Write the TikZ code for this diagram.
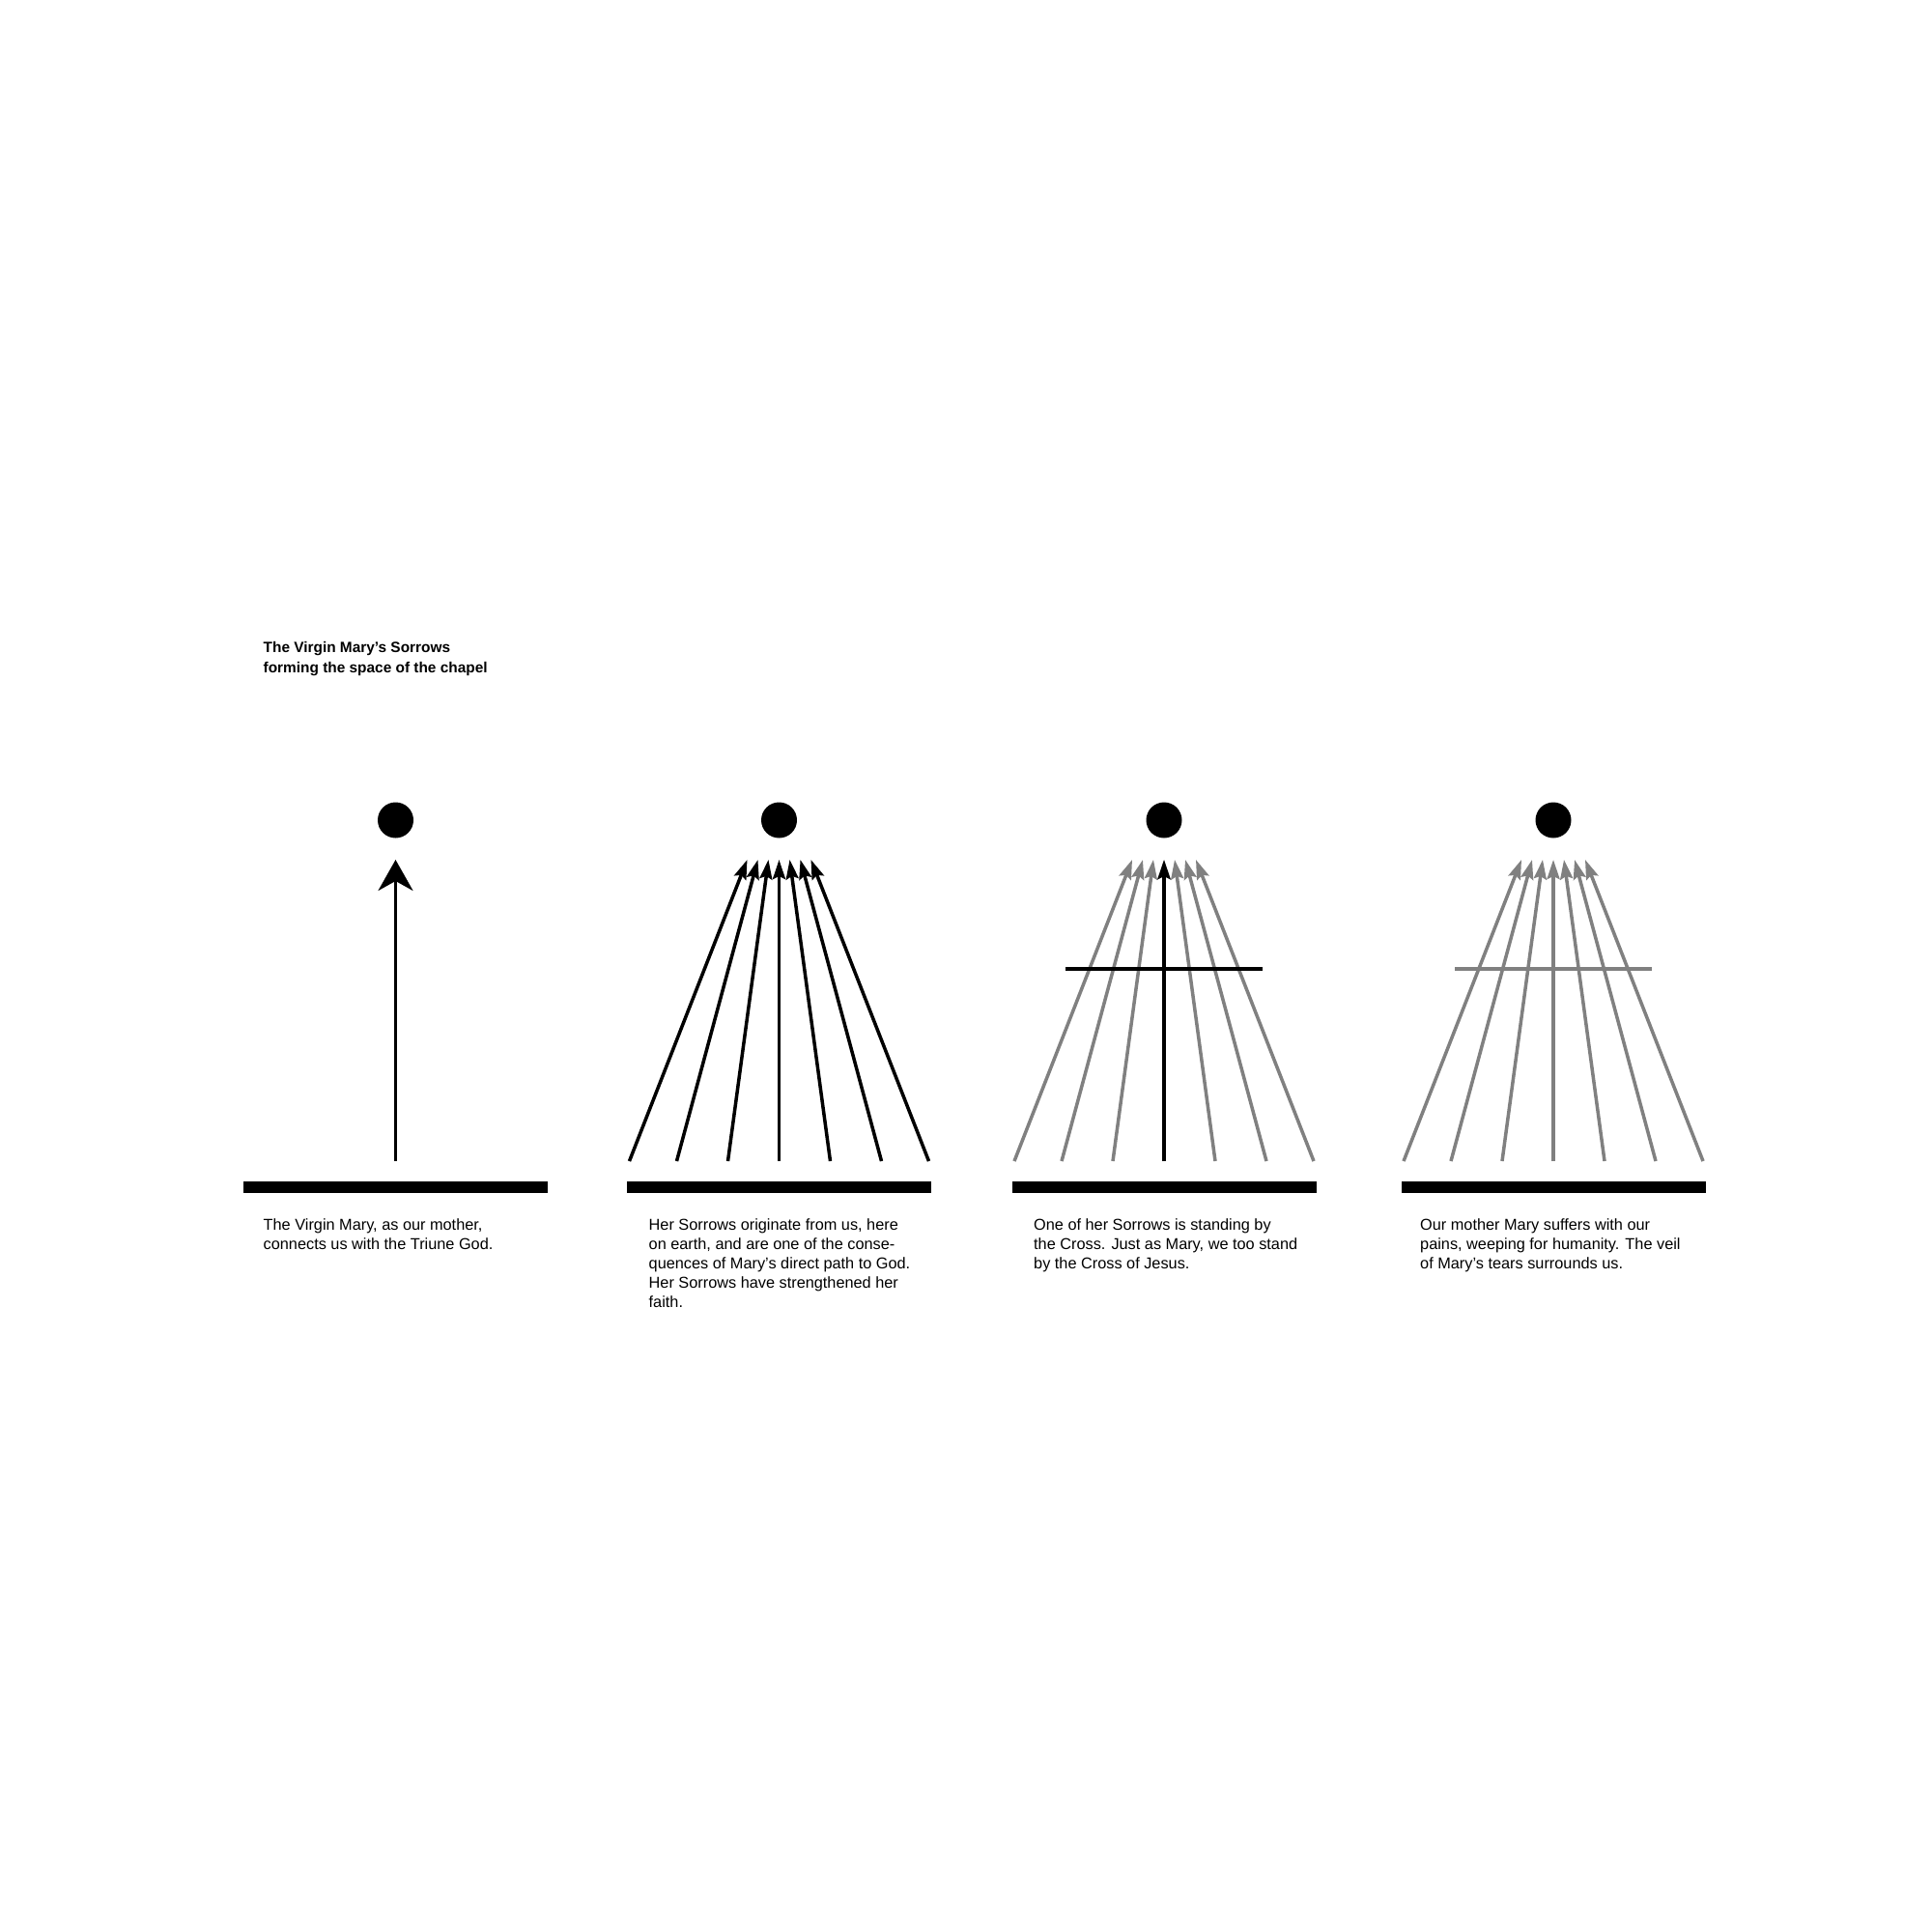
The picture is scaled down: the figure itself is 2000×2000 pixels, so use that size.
\documentclass[tikz,border=0pt]{standalone}
\usepackage{fontspec}
\setmainfont{Liberation Sans}
\usetikzlibrary{arrows.meta}
\definecolor{raygray}{RGB}{128,128,128}
\tikzset{
  dot/.style={circle, fill=black, draw=none, minimum size=37pt, inner sep=0pt},
  earth/.style={rectangle, fill=black, draw=none, minimum width=315pt, minimum height=12pt, inner sep=0pt},
  bigray/.style={line width=3.4pt, -{Stealth[length=32pt,width=36pt,inset=10pt]}},
  ray/.style={line width=3.5pt, -{Stealth[length=20pt,width=13pt,inset=3pt]}},
  crossbar/.style={line width=3.8pt},
  caption/.style={anchor=north west, inner sep=0pt, align=left,
    font=\fontsize{16.3pt}{20pt}\selectfont},
  heading/.style={anchor=north west, inner sep=0pt, align=left,
    font=\bfseries\fontsize{15.4pt}{21pt}\selectfont},
}
\begin{document}
\begin{tikzpicture}[x=1pt,y=-1pt]
\useasboundingbox[fill=white] (0,0) rectangle (2000,2000);

% title
\node[heading] (title) at (272.5,660.3) {\strut The Virgin Mary’s Sorrows\\forming the space of the chapel};

% dots (God) and bars (earth)
\foreach \c [count=\p] in {409.5,806.5,1205,1608} {
  \node[dot] (god\p) at (\c,849) {};
  \node[earth] (earth\p) at (\c,1229) {};
}

% panel 1
\coordinate (p1b) at (409.5,1202);
\coordinate (p1t) at (409.5,890);
\draw[bigray] (p1b) -- (p1t);

% panels 2-4 rays
\foreach \c/\p/\col in {806.5/2/black,1205/3/raygray,1608/4/raygray} {
  \foreach \bo/\to [count=\i] in {-155/-33,-106/-22,-53/-11,0/0,53/11,106/22,155/33} {
    \coordinate (p\p b\i) at (\c+\bo,1202);
    \coordinate (p\p t\i) at (\c+\to,890);
    \draw[ray, draw=\col, -{Stealth[length=20pt,width=13pt,inset=3pt,\col]}] (p\p b\i) -- (p\p t\i);
  }
}

% panel 3 cross
\coordinate (p3l) at (1103,1003);
\coordinate (p3r) at (1307,1003);
\draw[crossbar, black] (p3l) -- (p3r);
\draw[ray, line width=3.8pt, black] (p3b4) -- (p3t4);

% panel 4 veil
\coordinate (p4l) at (1506,1003);
\coordinate (p4r) at (1710,1003);
\draw[crossbar, raygray, line width=3.5pt] (p4l) -- (p4r);

% captions
\node[caption] (cap1) at (272.5,1259) {\strut The Virgin Mary, as our mother,\\connects us with the Triune God.};
\node[caption] (cap2) at (671.5,1259) {\strut Her Sorrows originate from us, here\\on earth, and are one of the conse-\\quences of Mary’s direct path to God.\\Her Sorrows have strengthened her\\faith.};
\node[caption] (cap3) at (1070,1259) {\strut One of her Sorrows is standing by\\the Cross. Just as Mary, we too stand\\by the Cross of Jesus.};
\node[caption] (cap4) at (1470,1259) {\strut Our mother Mary suffers with our\\pains, weeping for humanity. The veil\\of Mary’s tears surrounds us.};
\end{tikzpicture}
\end{document}
